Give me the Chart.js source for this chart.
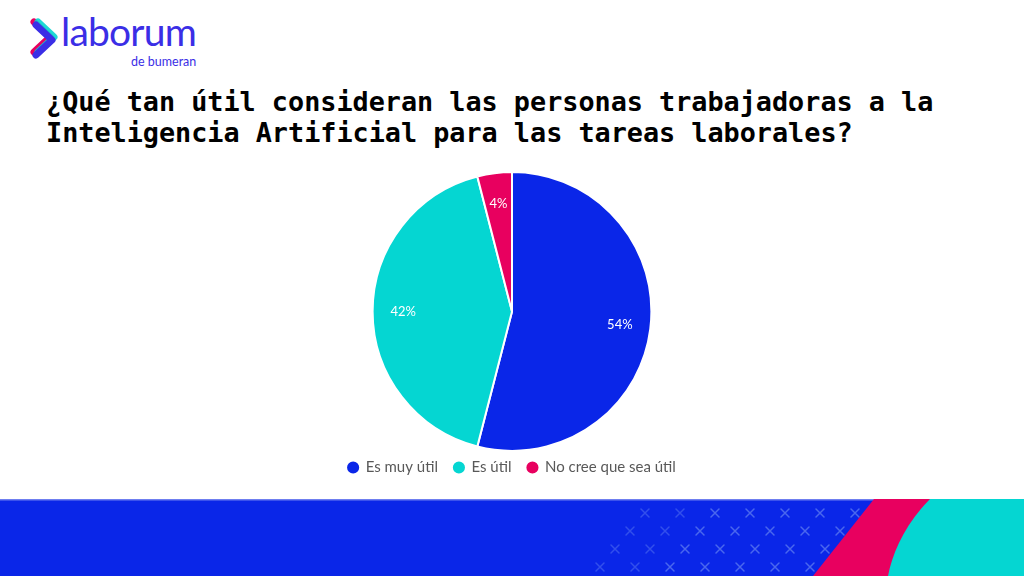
<!DOCTYPE html>
<html>
<head>
<meta charset="utf-8">
<script src="https://cdn.jsdelivr.net/npm/chart.js@4"></script>
<style>
  html, body { margin: 0; padding: 0; background: #fff; }
  body { width: 1024px; height: 576px; position: relative; overflow: hidden; }
  #logo { position: absolute; left: 28px; top: 16px; width: 200px; height: 60px; }
  #logoText { position: absolute; left: 61px; top: 12px; font-family: Lato, sans-serif; font-weight: 400;
    font-size: 39px; color: #3b2ee6; letter-spacing: -0.8px; line-height: 1; }
  #logoSub { position: absolute; left: 131px; top: 56px; font-family: Lato, sans-serif; font-size: 12.5px;
    color: #3b2ee6; line-height: 1; }
  #title { position: absolute; left: 46px; top: 86px; font-family: "DejaVu Sans Mono", monospace; font-weight: bold;
    font-size: 26.8px; line-height: 31px; color: #000; white-space: nowrap; }
  #chartBox { position: absolute; left: 300px; top: 164px; width: 424px; height: 321px; }
  #banner { position: absolute; left: 0; top: 499px; }
</style>
</head>
<body>
<svg id="logo" viewBox="0 0 200 60">
  <polyline points="6,6 22,21 6,36" fill="none" stroke="#e8005f" stroke-width="7" stroke-linecap="round" stroke-linejoin="round"/>
  <polyline points="10,6 26,21 10,36" fill="none" stroke="#05d6d2" stroke-width="7" stroke-linecap="round" stroke-linejoin="round" opacity="0.9"/>
  <polyline points="8,9 24,24 8,39" fill="none" stroke="#3b2ee6" stroke-width="7" stroke-linecap="round" stroke-linejoin="round"/>
</svg>
<div id="logoText">laborum</div>
<div id="logoSub">de bumeran</div>
<div id="title">¿Qué tan útil consideran las personas trabajadoras a la<br>Inteligencia Artificial para las tareas laborales?</div>
<div id="chartBox"><canvas id="pieChart"></canvas></div>
<svg id="banner" width="1024" height="77" viewBox="0 0 1024 77">
  <rect x="0" y="0" width="1024" height="77" fill="#0a26e8"/>
  <rect x="0" y="0" width="1024" height="1.5" fill="#6f7ff0"/>
  <g id="marks" stroke="#5a78f0" stroke-width="1.5" stroke-linecap="round"></g>
  <path d="M874,0 L1024,0 L1024,77 L813,77 Z" fill="#e8005f"/>
  <path d="M930,0 L1024,0 L1024,77 L888,77 C892,55 905,25 930,0 Z" fill="#05d6d2"/>
</svg>
<script>
const categorias = ['Es muy útil', 'Es útil', 'No cree que sea útil'];
const porcentajes = [54, 42, 4];
const colores = ['#0a26e8', '#05d6d2', '#e8005f'];

// decoracion del banner (cruces)
const marks = document.getElementById('marks');
for (let fila = 0; fila < 4; fila++) {
    for (let col = 0; col < 7; col++) {
        const cx = 645 - fila * 15 + col * 35;
        const cy = 14 + fila * 18;
        if (cx > 860 - fila * 15) continue;
        const g = document.createElementNS('http://www.w3.org/2000/svg', 'path');
        g.setAttribute('d', `M${cx - 4},${cy - 4} L${cx + 4},${cy + 4} M${cx + 4},${cy - 4} L${cx - 4},${cy + 4}`);
        g.setAttribute('opacity', col < 2 ? 0.5 : 0.8);
        marks.appendChild(g);
    }
}

const etiquetas = {
    id: 'etiquetas',
    afterDatasetsDraw(chart) {
        const ctx = chart.ctx;
        const meta = chart.getDatasetMeta(0);
        ctx.save();
        ctx.fillStyle = '#ffffff';
        ctx.font = '13px Lato, sans-serif';
        ctx.textAlign = 'center';
        ctx.textBaseline = 'middle';
        meta.data.forEach((arc, i) => {
            const mid = (arc.startAngle + arc.endAngle) / 2;
            const r = arc.outerRadius * 0.78;
            ctx.fillText(porcentajes[i] + '%', arc.x + Math.cos(mid) * r, arc.y + Math.sin(mid) * r);
        });
        ctx.restore();
    }
};

new Chart(document.getElementById('pieChart').getContext('2d'), {
    type: 'pie',
    data: {
        labels: categorias,
        datasets: [{
            data: porcentajes,
            backgroundColor: colores,
            borderColor: '#ffffff',
            borderWidth: 2,
            radius: '106%',
            clip: false
        }]
    },
    options: {
        responsive: true,
        maintainAspectRatio: false,
        animation: false,
        layout: { padding: { top: 15 } },
        plugins: {
            legend: {
                position: 'bottom',
                labels: {
                    usePointStyle: true,
                    pointStyle: 'circle',
                    boxWidth: 10,
                    boxHeight: 10,
                    padding: 16,
                    color: '#595959',
                    font: { family: 'Lato, sans-serif', size: 15 }
                }
            },
            tooltip: { enabled: false }
        }
    },
    plugins: [etiquetas]
});
</script>
</body>
</html>
